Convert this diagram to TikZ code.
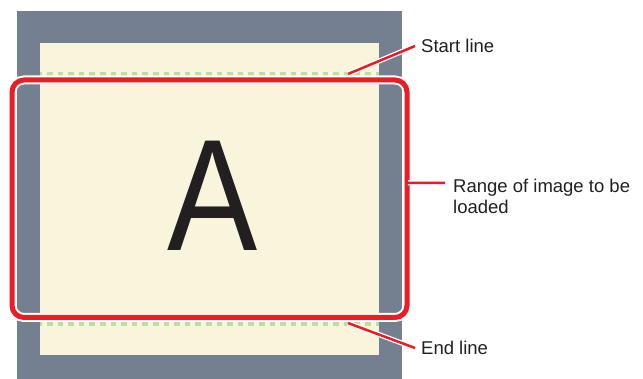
\documentclass[tikz,border=0pt]{standalone}
\usepackage{fontspec}
\setmainfont{Liberation Sans}
\definecolor{panelgray}{RGB}{116,128,143}
\definecolor{paper}{RGB}{249,244,220}
\definecolor{rangered}{RGB}{237,28,36}
\definecolor{dotgreen}{RGB}{190,222,160}
\definecolor{labeltext}{RGB}{35,31,32}
\begin{document}
\begin{tikzpicture}[x=1pt, y=-1pt,
    lbl/.style={anchor=west, inner xsep=6pt, inner ysep=0pt, text=labeltext,
        font=\fontsize{18.5}{21}\selectfont},
    leader/.style={draw=white, double=rangered, double distance=2.5pt, line width=1.3pt},
    dotline/.style={dotgreen, line width=5.5pt, dash pattern=on 5.7pt off 4.9pt, dash phase=3.7pt}]
    \useasboundingbox (0,0) rectangle (643,379);

    % Panel and image
    \fill[panelgray] (17,11) rectangle (402,379);
    \fill[paper] (40,43) rectangle (379,355);

    % Start and end lines
    \draw[dotline] (40,74.8) -- (379,74.8);
    \draw[dotline] (40,323) -- (379,323);

    % Range to be loaded
    \node[draw=white, double=rangered, double distance=5pt, line width=2pt,
        rounded corners=12pt, minimum width=395pt, minimum height=237.5pt,
        inner sep=0pt] (range) at (209.5,198.75) {};
    \node[text=labeltext, font=\fontsize{159}{159}\selectfont, inner sep=0pt,
        xscale=0.85] (letter) at (212.5,196) {A};

    % Labels
    \coordinate (starttip) at (348,74);
    \node[lbl] (startlbl) at (415,46) {Start line};
    \draw[leader] (starttip) -- (startlbl.west);

    \coordinate (rangetip) at (445,183);
    \node[lbl, align=left, inner xsep=8pt, yshift=-13.5pt] (rangelbl) at (rangetip)
        {Range of image to be\\loaded};
    \draw[leader] ([yshift=16pt]range.east) -- (rangetip);

    \coordinate (endtip) at (348,323);
    \node[lbl] (endlbl) at (415,348) {End line};
    \draw[leader] (endtip) -- (endlbl.west);

\end{tikzpicture}
\end{document}
